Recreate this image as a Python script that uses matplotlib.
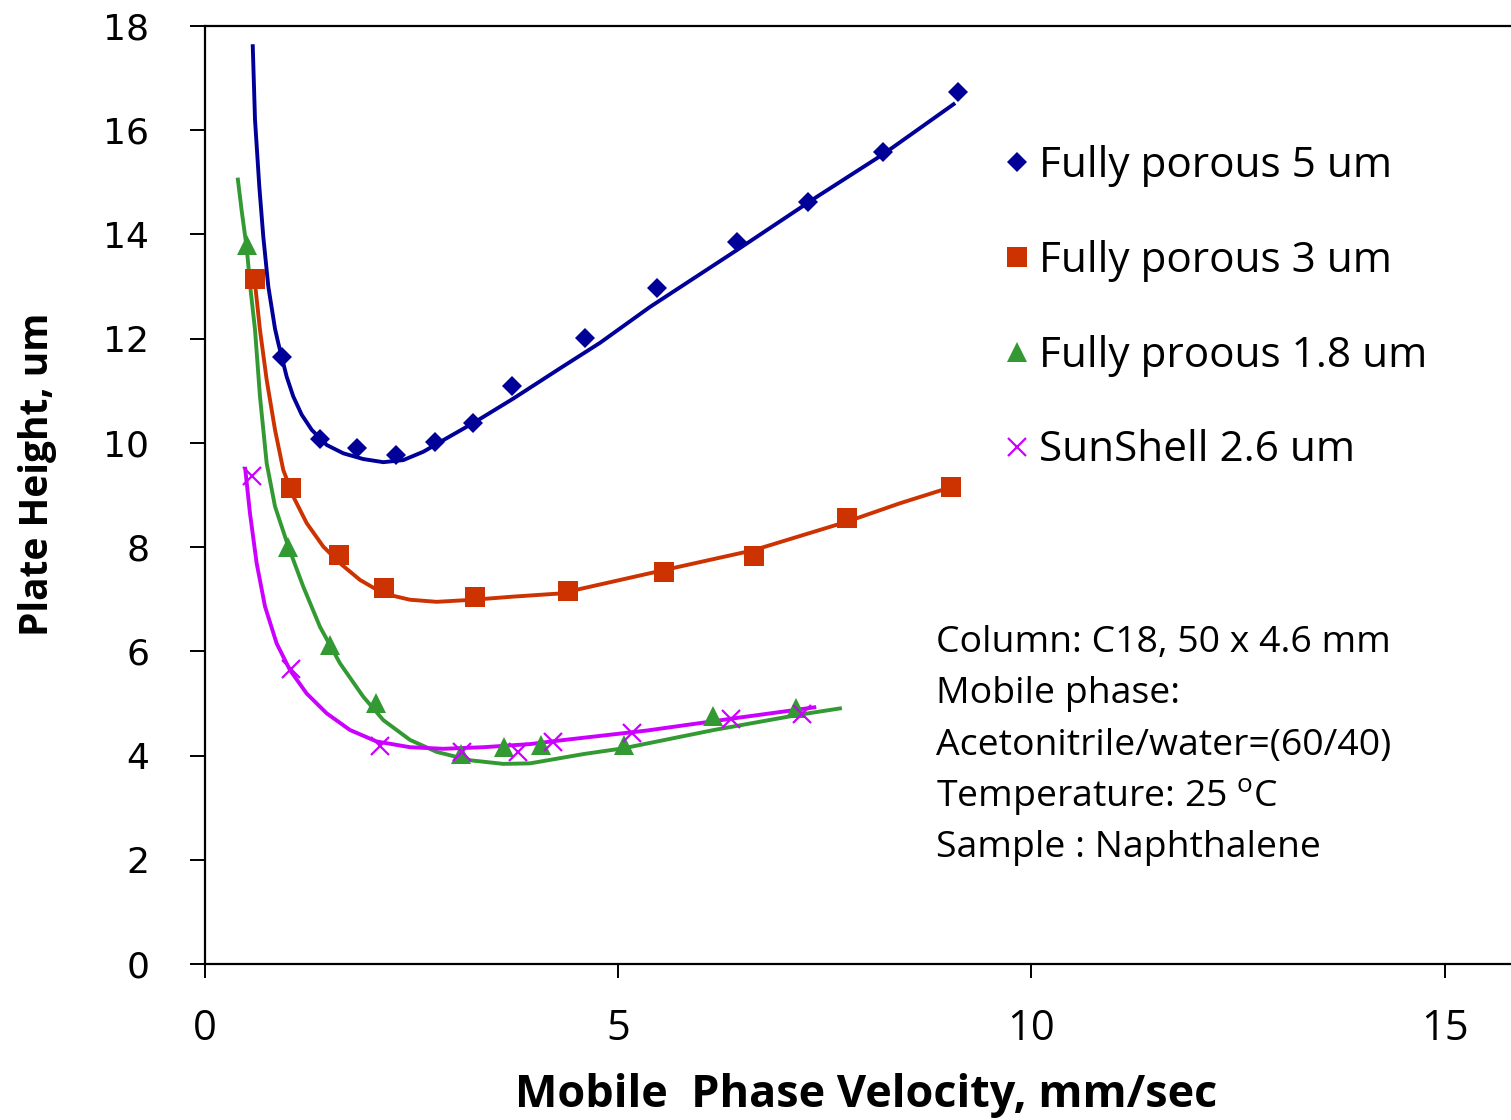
import matplotlib
matplotlib.use('Agg')
import matplotlib.pyplot as plt
from matplotlib.lines import Line2D

plt.rcParams['font.family'] = ['Open Sans', 'DejaVu Sans']
plt.rcParams['mathtext.fontset'] = 'custom'
plt.rcParams['mathtext.rm'] = 'Open Sans'

# ---------------- data ----------------
series_labels = ['Fully porous 5 um', 'Fully porous 3 um',
                 'Fully proous 1.8 um', 'SunShell 2.6 um']

# measured points
fp5_u = [0.934, 1.397, 1.848, 2.313, 2.788, 3.252, 3.716, 4.597, 5.477, 6.445, 7.296, 8.211, 9.118]
fp5_h = [11.65, 10.07, 9.90, 9.77, 10.02, 10.39, 11.09, 12.01, 12.97, 13.86, 14.63, 15.58, 16.74]

fp3_u = [0.611, 1.041, 1.631, 2.170, 3.267, 4.401, 5.562, 6.642, 7.775, 9.03]
fp3_h = [13.14, 9.13, 7.85, 7.21, 7.05, 7.16, 7.53, 7.82, 8.55, 9.15]

fp18_u = [0.510, 1.010, 1.523, 2.078, 3.097, 3.618, 4.076, 5.08, 6.156, 7.155]
fp18_h = [13.80, 8.01, 6.12, 5.00, 4.03, 4.17, 4.20, 4.20, 4.75, 4.91]

ss_u = [0.57, 1.045, 2.12, 3.11, 3.79, 4.215, 5.17, 6.37, 7.23]
ss_h = [9.37, 5.66, 4.18, 4.07, 4.07, 4.26, 4.43, 4.70, 4.80]

# trend curves
fp5_fit_u = [0.583, 0.611, 0.663, 0.711, 0.772, 0.853, 0.893, 0.934, 0.994, 1.074, 1.176,
             1.297, 1.478, 1.679, 1.92, 2.163, 2.405, 2.647, 2.93, 3.25, 3.735, 4.30,
             4.784, 5.39, 6.44, 7.405, 8.21, 9.08]
fp5_fit_h = [17.65, 16.20, 14.92, 13.96, 13.00, 12.19, 11.91, 11.65, 11.27, 10.89, 10.54,
             10.25, 9.96, 9.80, 9.69, 9.63, 9.67, 9.83, 10.09, 10.38, 10.85, 11.43,
             11.92, 12.61, 13.70, 14.72, 15.54, 16.52]

fp3_fit_u = [0.611, 0.671, 0.752, 0.853, 0.953, 1.074, 1.236, 1.437, 1.639, 1.881, 2.163,
             2.486, 2.809, 3.25, 3.735, 4.30, 5.56, 6.64, 7.775, 8.41, 9.03]
fp3_fit_h = [13.06, 12.17, 11.21, 10.25, 9.48, 8.97, 8.46, 8.01, 7.69, 7.37, 7.11,
             6.99, 6.95, 6.99, 7.05, 7.11, 7.56, 7.94, 8.49, 8.84, 9.15]

fp18_fit_u = [0.401, 0.45, 0.51, 0.56, 0.611, 0.671, 0.752, 0.853, 1.014, 1.195, 1.397,
              1.639, 1.92, 2.163, 2.486, 2.809, 3.21, 3.615, 3.937, 4.30, 4.59, 5.07,
              6.16, 7.18, 7.71]
fp18_fit_h = [15.09, 14.45, 13.75, 12.90, 12.17, 10.89, 9.61, 8.78, 8.01, 7.24, 6.47,
              5.77, 5.13, 4.68, 4.30, 4.07, 3.91, 3.84, 3.85, 3.95, 4.03, 4.14,
              4.49, 4.78, 4.91]

ss_fit_u = [0.49, 0.55, 0.631, 0.732, 0.873, 1.034, 1.236, 1.478, 1.76, 2.083, 2.486,
            2.888, 3.372, 3.937, 4.30, 5.35, 6.43, 7.40]
ss_fit_h = [9.54, 8.65, 7.69, 6.86, 6.15, 5.64, 5.19, 4.81, 4.49, 4.27, 4.16,
            4.13, 4.16, 4.22, 4.29, 4.48, 4.72, 4.93]

x_ticks = [0, 5, 10, 15]
y_ticks = [0, 2, 4, 6, 8, 10, 12, 14, 16, 18]

notes = ['Column: C18, 50 x 4.6 mm',
         'Mobile phase:',
         'Acetonitrile/water=(60/40)',
         r'Temperature: 25 $\mathregular{^{o}}$C',
         'Sample : Naphthalene']

# ---------------- styling ----------------
colors = ['#000099', '#CC3300', '#339933', '#CC00FF']
markers = ['D', 's', '^', 'x']
msizes = [10, 14, 14, 13]

W, H = 1511, 1120
fig = plt.figure(figsize=(W / 100, H / 100), dpi=100)
ax_left, ax_bottom, ax_top = 204.5, 964, 26
unit_x = 82.67
ax = fig.add_axes([ax_left / W, (H - ax_bottom) / H,
                   16 * unit_x / W, (ax_bottom - ax_top) / H])
ax.set_xlim(0, 16)
ax.set_ylim(0, 18)

pts = [(fp5_u, fp5_h), (fp3_u, fp3_h), (fp18_u, fp18_h), (ss_u, ss_h)]
fits = [(fp5_fit_u, fp5_fit_h), (fp3_fit_u, fp3_fit_h),
        (fp18_fit_u, fp18_fit_h), (ss_fit_u, ss_fit_h)]

for (fu, fh), c in zip(fits, colors):
    ax.plot(fu, fh, color=c, lw=2.8, solid_capstyle='butt',
            solid_joinstyle='round', zorder=2)

handles = []
for (u, h), c, m, ms in zip(pts, colors, markers, msizes):
    if m == 'x':
        ax.plot(u, h, ls='none', marker=m, ms=ms, mew=1.6, color=c, zorder=3)
        handles.append(Line2D([], [], ls='none', marker=m, ms=ms, mew=1.6, color=c))
    else:
        ax.plot(u, h, ls='none', marker=m, ms=ms, mew=0, color=c, zorder=3)
        handles.append(Line2D([], [], ls='none', marker=m, ms=ms, mew=0, color=c))

ax.set_xticks(x_ticks)
ax.set_yticks(y_ticks)
ax.set_xticklabels([str(t) for t in x_ticks], fontsize=30)
ax.set_yticklabels([str(t) for t in y_ticks], fontsize=26, family='DejaVu Sans')
ax.tick_params(axis='x', direction='out', length=10, width=1.4, pad=22)
ax.tick_params(axis='y', direction='out', length=10.8, width=1.4, pad=29)
for s in ['left', 'bottom', 'top', 'right']:
    ax.spines[s].set_linewidth(1.6)

ax.set_xlabel('Mobile  Phase Velocity, mm/sec', fontsize=32.4, fontweight='bold', labelpad=16)
ax.set_ylabel('Plate Height, um', fontsize=28, fontweight='bold')
ax.yaxis.set_label_coords((57 - ax_left) / (16 * unit_x), (964 - 474) / (964 - 26))

leg = fig.legend(handles, series_labels, loc='upper left',
                 bbox_to_anchor=(1005 / W, 1 - 145 / H), bbox_transform=fig.transFigure,
                 frameon=False, fontsize=30.4, handlelength=0.55, handletextpad=0.25,
                 labelspacing=1.25, borderpad=0, borderaxespad=0, numpoints=1)

y0 = 652
for i, line in enumerate(notes):
    fig.text(936 / W, 1 - (y0 + i * 51.3) / H, line, fontsize=26.9,
             ha='left', va='baseline')

fig.savefig('out.png', dpi=100)
